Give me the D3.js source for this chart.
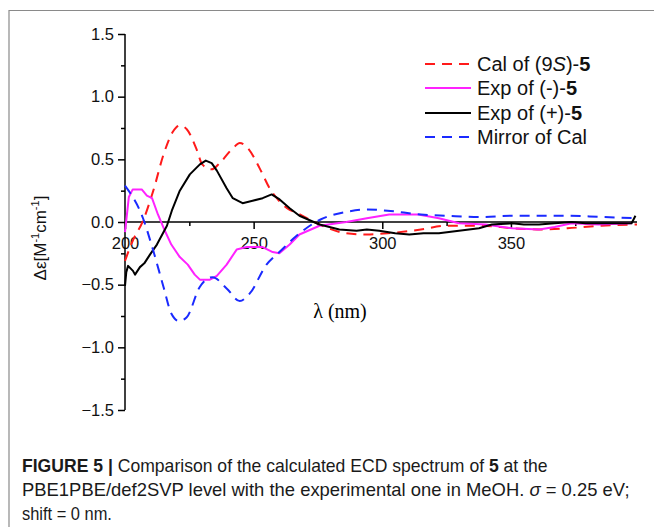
<!DOCTYPE html>
<html><head><meta charset="utf-8">
<script src="https://cdn.jsdelivr.net/npm/d3@7"></script>
<style>
body{margin:0;background:#fff;}
svg text{font-family:Arial,"Liberation Sans",sans-serif;}
</style></head>
<body><svg id="c" width="654" height="527"></svg>
<script>
// ---- data ----
const calWl   = [200,203,207,211,215,218.6,221.3,224,228,230,233.7,236.8,242,244.6,247.7,252.3,256.2,259,263,267,275.6,286,294,302,315,325,338,351,361.6,372,385,399];
const calVal  = [-0.31,-0.15,0.01,0.25,0.54,0.72,0.77,0.74,0.57,0.46,0.42,0.47,0.59,0.63,0.59,0.43,0.27,0.19,0.11,0.07,-0.02,-0.09,-0.10,-0.09,-0.06,-0.03,-0.03,-0.05,-0.06,-0.05,-0.03,-0.02];

const mirWl   = [200,207,211,215,218,221,224,229,234,239.5,244.6,248.5,255,260,266.7,276,286,294,302,315,325,338,351,362,372,385,399];
const mirVal  = [0.29,0.03,-0.23,-0.52,-0.73,-0.79,-0.76,-0.52,-0.44,-0.53,-0.63,-0.57,-0.34,-0.24,-0.11,0.02,0.08,0.10,0.09,0.06,0.05,0.04,0.05,0.05,0.05,0.04,0.03];

const expPlusWl  = [200,200.5,201.2,203.1,203.9,205.8,207.5,209.7,212.4,216.3,218.2,221.3,225.2,229.1,231.4,233.7,235.7,239.5,241.9,245.7,249.6,253.5,257,260.1,264,267.8,275.6,283.3,290,294,298.8,305,310.5,316,322,329.8,337.6,342.6,350.4,355,360.9,367,373.6,379,384,390,396.9,398.4];
const expPlusVal = [-0.51,-0.40,-0.35,-0.39,-0.42,-0.36,-0.33,-0.26,-0.18,-0.03,0.09,0.25,0.38,0.46,0.49,0.47,0.41,0.27,0.19,0.15,0.17,0.19,0.22,0.18,0.11,0.05,-0.02,-0.06,-0.07,-0.06,-0.07,-0.09,-0.10,-0.09,-0.09,-0.07,-0.05,-0.02,-0.01,-0.02,-0.02,-0.01,0.0,-0.01,-0.01,-0.01,-0.01,0.05];

const expMinusWl  = [200,201.5,203,206.5,208.5,210.5,212.8,215.5,218,221.3,224.4,227.1,229.1,233,235.7,239.5,243.4,247.3,253.5,257.4,260,264,267.8,275.6,286,294,302.7,314,322,329.8,340,350.4,361,367,373.6,384,397];
const expMinusVal = [-0.08,0.20,0.26,0.26,0.21,0.19,0.06,-0.07,-0.18,-0.28,-0.34,-0.42,-0.46,-0.46,-0.43,-0.34,-0.22,-0.20,-0.20,-0.24,-0.25,-0.18,-0.10,-0.03,0.00,0.03,0.06,0.06,0.03,-0.01,-0.02,-0.05,-0.06,-0.04,-0.01,-0.02,-0.01];

const seriesNames = ["Cal of (9S)-5","Exp of (-)-5","Exp of (+)-5","Mirror of Cal"];
const xMajorTicks = [200,250,300,350];
const xMinorTicks = [225,275,325,375];
const yMajorTicks = [-1.5,-1.0,-0.5,0.0,0.5,1.0,1.5];
const yMinorTicks = [-1.25,-0.75,-0.25,0.25,0.75,1.25];

// ---- drawing ----
const svg = d3.select("#c");
const x = d3.scaleLinear().domain([200,399]).range([125,637]);
const y = d3.scaleLinear().domain([-1.5,1.5]).range([410,34]);

// figure frame
svg.append("path").attr("d","M9,527V10.5H654").attr("fill","none").attr("stroke","#8a8a8a").attr("stroke-width",1.2);

const series = [
  {name:seriesNames[0], wl:calWl, v:calVal, color:"#ff1a1a", dash:"10,7", w:2, curve:d3.curveMonotoneX},
  {name:seriesNames[1], wl:expMinusWl, v:expMinusVal, color:"#ff22ff", dash:null, w:2, curve:d3.curveLinear},
  {name:seriesNames[2], wl:expPlusWl, v:expPlusVal, color:"#000", dash:null, w:2, curve:d3.curveLinear},
  {name:seriesNames[3], wl:mirWl, v:mirVal, color:"#1a2aff", dash:"10,7", w:2, curve:d3.curveMonotoneX}
];

// axes
const gx = svg.append("g").attr("transform",`translate(0,${y(0)})`);
gx.call(d3.axisBottom(x).tickValues(xMajorTicks).tickSize(7).tickFormat(d3.format("d")));
gx.append("g").call(d3.axisBottom(x).tickValues(xMinorTicks).tickSize(4).tickFormat(""));
gx.selectAll(".domain").remove();
gx.append("line").attr("x1",x(200)).attr("x2",x(399)).attr("stroke","#000").attr("stroke-width",1.5);
gx.selectAll("line").attr("stroke","#000").attr("stroke-width",1.5);
gx.selectAll("text").attr("font-size",16.5).attr("fill","#111").attr("dy","1.05em");

const gy = svg.append("g").attr("transform",`translate(${x(200)},0)`);
gy.call(d3.axisLeft(y).tickValues(yMajorTicks).tickSize(7).tickFormat(d3.format(".1f")));
gy.append("g").call(d3.axisLeft(y).tickValues(yMinorTicks).tickSize(4).tickFormat(""));
gy.selectAll(".domain").remove();
gy.append("line").attr("y1",y(-1.5)).attr("y2",y(1.5)).attr("stroke","#000").attr("stroke-width",1.5);
gy.selectAll("line").attr("stroke","#000").attr("stroke-width",1.5);
gy.selectAll("text").attr("font-size",16.5).attr("fill","#111").attr("x",-11);

// lines
series.forEach(s=>{
  const pts = s.wl.map((w,i)=>[w,s.v[i]]);
  svg.append("path").datum(pts)
    .attr("d",d3.line().x(d=>x(d[0])).y(d=>y(d[1])).curve(s.curve))
    .attr("fill","none").attr("stroke",s.color).attr("stroke-width",s.w)
    .attr("stroke-dasharray",s.dash).attr("stroke-linejoin","round");
});

// legend
const legY = [64,88,113,137];
series.forEach((s,i)=>{
  svg.append("line").attr("x1",425).attr("x2",471).attr("y1",legY[i]).attr("y2",legY[i])
    .attr("stroke",s.color).attr("stroke-width",2).attr("stroke-dasharray",s.dash);
  const t = svg.append("text").attr("x",477).attr("y",legY[i]+7).attr("font-size",20).attr("fill","#111");
  if(i===0){ t.append("tspan").text("Cal of (9"); t.append("tspan").attr("font-style","italic").text("S"); t.append("tspan").text(")-"); t.append("tspan").attr("font-weight","bold").text("5"); }
  else if(i===1){ t.append("tspan").text("Exp of (-)-"); t.append("tspan").attr("font-weight","bold").text("5"); }
  else if(i===2){ t.append("tspan").text("Exp of (+)-"); t.append("tspan").attr("font-weight","bold").text("5"); }
  else { t.text(s.name); }
});

// axis titles
svg.append("text").attr("x",340).attr("y",318).attr("text-anchor","middle")
  .attr("font-size",20).style("font-family","'Liberation Serif','Times New Roman',serif").text("λ (nm)");
const yl = svg.append("text").attr("transform","translate(46,238) rotate(-90)").attr("text-anchor","middle")
  .attr("font-size",17).attr("fill","#111");
yl.append("tspan").text("Δε[M");
yl.append("tspan").attr("font-size",11).attr("dy",-7).text("-1");
yl.append("tspan").attr("dy",7).text("cm");
yl.append("tspan").attr("font-size",11).attr("dy",-7).text("-1");
yl.append("tspan").attr("dy",7).text("]");

// caption
function capLine(yy, target, build){
  const t = svg.append("text").attr("font-size",18).attr("fill","#1a1a1a").attr("transform",`translate(22,${yy})`);
  build(t);
  const w = t.node().getComputedTextLength();
  t.attr("transform",`translate(22,${yy}) scale(${target/w},1)`);
}
capLine(472,526,t=>{
  t.append("tspan").attr("font-weight","bold").text("FIGURE 5 | ");
  t.append("tspan").text("Comparison of the calculated ECD spectrum of ");
  t.append("tspan").attr("font-weight","bold").text("5");
  t.append("tspan").text(" at the");
});
capLine(496,608,t=>{
  t.append("tspan").text("PBE1PBE/def2SVP level with the experimental one in MeOH. ");
  t.append("tspan").attr("font-style","italic").text("σ");
  t.append("tspan").text(" = 0.25 eV;");
});
capLine(520,90,t=>{ t.text("shift = 0 nm."); });
</script></body></html>
